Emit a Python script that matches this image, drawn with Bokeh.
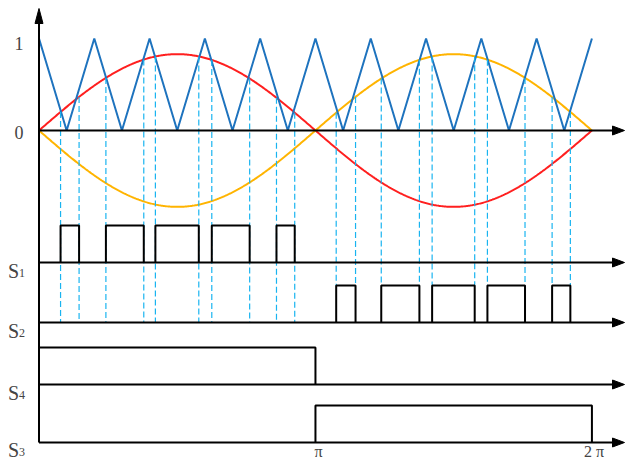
import numpy as np
from bokeh.plotting import figure
from bokeh.models import Range1d
from bokeh.core.properties import value
from bokeh.embed import file_html
from bokeh.resources import INLINE

# ---------------- data ----------------
carrier_periods = 10          # triangle carrier periods over 0..2π
mod_index = 0.83              # amplitude of the modulating sine
# switching instants (units of π) where the sine crosses the carrier
s1_edges = [0.078, 0.145, 0.242, 0.379, 0.421, 0.578, 0.625, 0.762, 0.859, 0.925]
s2_edges = [1.075, 1.145, 1.238, 1.376, 1.422, 1.576, 1.622, 1.758, 1.856, 1.922]
s4_high = [0.0, 1.0]          # S4 conducts from 0 to π
s3_high = [1.0, 2.0]          # S3 conducts from π to 2π
y_tick_values = [1, 0]
y_tick_labels = ["1", "0"]
x_tick_values = [1, 2]        # units of π
x_tick_labels = ["π", "2 π"]
channel_names = ["1", "2", "4", "3"]

# ---------------- layout ----------------
PI = np.pi
W, H = 625, 459
PX_X = 88.0    # px per radian
PX_Y = 92.0    # px per unit
X0 = -38.5 / PX_X
X1 = X0 + W / PX_X
Y1 = 130 / PX_Y
Y0 = Y1 - H / PX_Y
DX = 1.0 / PX_X
DY = 1.0 / PX_Y

base = {"1": -132 * DY, "2": -192 * DY, "4": -254 * DY, "3": -312 * DY}
pulse_h = 37 * DY

BLUE = "#1E73BE"
RED = "#FF1F1F"
ORANGE = "#FFB400"
DASH = "#19B4F0"
TXT = "#444444"
FONT = value("Liberation Serif")

p = figure(width=W, height=H, x_range=Range1d(X0, X1), y_range=Range1d(Y0, Y1),
           output_backend="svg", toolbar_location=None, min_border=0,
           x_axis_location=None, y_axis_location=None, outline_line_color=None,
           background_fill_color="white", border_fill_color="white")
p.xgrid.visible = False
p.ygrid.visible = False

# ---------------- curves ----------------
xs = np.linspace(0, 2 * PI, 600)
p.line(xs, mod_index * np.sin(xs), line_color=RED, line_width=2)
p.line(xs, -mod_index * np.sin(xs), line_color=ORANGE, line_width=2)

k = np.arange(2 * carrier_periods + 1)
tri_x = k * PI / carrier_periods
tri_y = np.where(k % 2 == 0, 1.0, 0.0)
p.line(tri_x, tri_y, line_color=BLUE, line_width=2)

# ---------------- dashed projection lines ----------------
dxs, dys = [], []
for e in s1_edges:
    x = e * PI
    dxs.append([x, x])
    dys.append([mod_index * np.sin(x), base["2"]])
for e in s2_edges:
    x = e * PI
    dxs.append([x, x])
    dys.append([-mod_index * np.sin(x), base["2"] + pulse_h])
p.multi_line(dxs, dys, line_color=DASH, line_width=1.2, line_dash="6 3")

# ---------------- pulse trains ----------------
def pulses(edges, b):
    px, py = [], []
    for a, c in zip(edges[0::2], edges[1::2]):
        px.append([a * PI, a * PI, c * PI, c * PI])
        py.append([b, b + pulse_h, b + pulse_h, b])
    return px, py

for name, edges in (("1", s1_edges), ("2", s2_edges)):
    px, py = pulses(edges, base[name])
    p.multi_line(px, py, line_color="black", line_width=2)

b4 = base["4"]
p.line([s4_high[0] * PI, s4_high[1] * PI, s4_high[1] * PI],
       [b4 + pulse_h, b4 + pulse_h, b4], line_color="black", line_width=2)
b3 = base["3"]
p.line([s3_high[0] * PI, s3_high[0] * PI, s3_high[1] * PI, s3_high[1] * PI],
       [b3, b3 + pulse_h, b3 + pulse_h, b3], line_color="black", line_width=2)

# ---------------- axes with arrow heads ----------------
HL, HW = 12, 4.5   # horizontal head length / half width (px)
x_tip = X1 - 1 * DX
hx, hy = [], []
for b in [0.0, base["1"], base["2"], base["4"], base["3"]]:
    p.line([0, x_tip - HL * DX], [b, b], line_color="black", line_width=2)
    hx.append([x_tip, x_tip - HL * DX, x_tip - HL * DX])
    hy.append([b, b + HW * DY, b - HW * DY])
VL, VW = 15, 4
y_tip = Y1 - 8 * DY
p.line([0, 0], [base["3"], y_tip - VL * DY], line_color="black", line_width=2)
hx.append([0, -VW * DX, VW * DX])
hy.append([y_tip, y_tip - VL * DY, y_tip - VL * DY])
p.patches(hx, hy, fill_color="black", line_color="black", line_width=1)

# ---------------- labels ----------------
p.text(x=[0, 0], y=y_tick_values, text=y_tick_labels, text_font=FONT,
       text_font_size="18px", text_color=TXT, text_align="center",
       text_baseline="middle", x_offset=-20, y_offset=[5, 2])

for name in channel_names:
    b = base[name]
    dy_s = 7 if name == "3" else 8
    p.text(x=[0], y=[b], text=["S"], text_font=FONT, text_font_size="20px",
           text_color=TXT, text_align="left", text_baseline="alphabetic",
           x_offset=-31, y_offset=dy_s)
    p.text(x=[0], y=[b], text=[name], text_font=FONT, text_font_size="12px",
           text_color=TXT, text_align="left", text_baseline="alphabetic",
           x_offset=-20, y_offset=dy_s + 2)

p.text(x=[v * PI for v in x_tick_values], y=[base["3"]] * 2, text=x_tick_labels,
       text_font=FONT, text_font_size="16px", text_color=TXT,
       text_align="center", text_baseline="alphabetic",
       x_offset=[3, 2], y_offset=9)

open("out.html", "w").write(file_html(p, INLINE))
